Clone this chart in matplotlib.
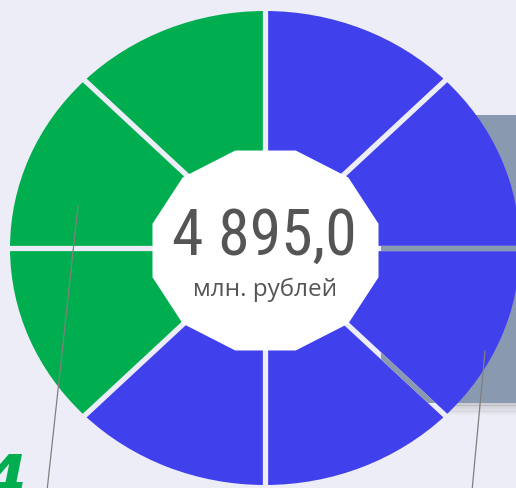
import numpy as np
import matplotlib
matplotlib.use("Agg")
import matplotlib.pyplot as plt
import matplotlib.patches as mpatches
import matplotlib.transforms as mtransforms
from matplotlib import font_manager as fm

# ---- data ----
segment_values = [1, 1, 1, 1, 1, 1, 1, 1]
segment_groups = ["green", "green", "green", "blue", "blue", "blue", "blue", "blue"]
total_label = "4 895,0"
unit_label = "млн. рублей"
side_label = "4"

W, H = 516, 489
BG = "#EDEDF7"
GREEN = "#00AE50"
BLUE = "#4040EC"
GRAY_RECT = "#8899B0"
TEXT = "#555555"
group_colors = {"green": GREEN, "blue": BLUE}

# donut geometry in pixels
CX, CY = 265, 249
RX, RY = 255, 237

available = {f.name for f in fm.fontManager.ttflist}
def pick(cands):
    for c in cands:
        if c in available:
            return c
    return "DejaVu Sans"
num_font = pick(["Liberation Sans Narrow", "Roboto Condensed", "DejaVu Sans"])
sub_font = pick(["Open Sans", "Noto Sans", "DejaVu Sans"])

fig = plt.figure(figsize=(W / 100, H / 100), dpi=100)
fig.patch.set_facecolor(BG)
ax = fig.add_axes([0, 0, 1, 1])
ax.set_facecolor(BG)
ax.axis("off")

# pixel transform (origin top-left)
T = mtransforms.Affine2D().scale(1 / W, -1 / H).translate(0, 1) + fig.transFigure

# background grey panel with soft shadow
panel = mpatches.Rectangle((381, 116), W - 381 + 5, 404 - 116, facecolor=GRAY_RECT,
                           edgecolor="none", transform=T, zorder=1)
ax.add_patch(panel)
for i in range(10):
    ax.add_patch(mpatches.Rectangle((381, 404 + i * 1.2), W - 381 + 5, 1.3,
                                    facecolor="#808080", alpha=0.3 * (1 - i / 10),
                                    edgecolor="none", transform=T, zorder=1))
gap_clip = mpatches.Rectangle((381, 150), W - 381 + 5, 404 - 150, transform=T)

# donut (pie in data coords, stretched to ellipse)
colors = [group_colors[g] for g in segment_groups]
wedges, _ = ax.pie(segment_values, colors=colors, startangle=90, counterclock=True,
                   radius=1, center=(0, 0), wedgeprops=dict(linewidth=0))
for w in wedges:
    w.set_zorder(2)
ax.set_aspect("auto")

# gaps between segments
for w in wedges:
    a = np.deg2rad(w.theta1)
    xs = [0, 1.1 * np.cos(a)]
    ys = [0, 1.1 * np.sin(a)]
    ax.plot(xs, ys, color=BG, lw=3.8, zorder=3, solid_capstyle="butt")
    ln, = ax.plot(xs, ys, color=GRAY_RECT, lw=3.8, zorder=3.1, solid_capstyle="butt")
    ln.set_clip_path(gap_clip)

# central 12-gon
ang = np.deg2rad(15 + 30 * np.arange(12))
prx, pry = 117, 103.5
pcx, pcy = 265.5, 251.5
verts = np.column_stack([pcx + prx * np.cos(ang), pcy - pry * np.sin(ang)])
ax.add_patch(mpatches.Polygon(verts, closed=True, facecolor="white", edgecolor="none",
                              transform=T, zorder=4))

ax.text(264, 237, total_label, transform=T, ha="center", va="center",
        fontsize=46, color=TEXT, family=num_font, zorder=5)
ax.text(265.5, 290, unit_label, transform=T, ha="center", va="center",
        fontsize=17.5, color=TEXT, family=sub_font, zorder=5)

# leader lines
ax.plot([78, 47], [207, 492], color="#808080", lw=0.9, transform=T, zorder=6)
ax.plot([485, 472], [352, 492], color="#808080", lw=0.9, transform=T, zorder=6)

# partially visible side label
ax.text(-17, 452, side_label, transform=T, ha="left", va="top", fontsize=44,
        color=GREEN, fontweight="bold", style="italic", family="DejaVu Sans Condensed",
        zorder=6)

ax.set_xlim(-CX / RX, (W - CX) / RX)
ax.set_ylim((CY - H) / RY, CY / RY)

fig.savefig("out.png", dpi=100, facecolor=BG)
